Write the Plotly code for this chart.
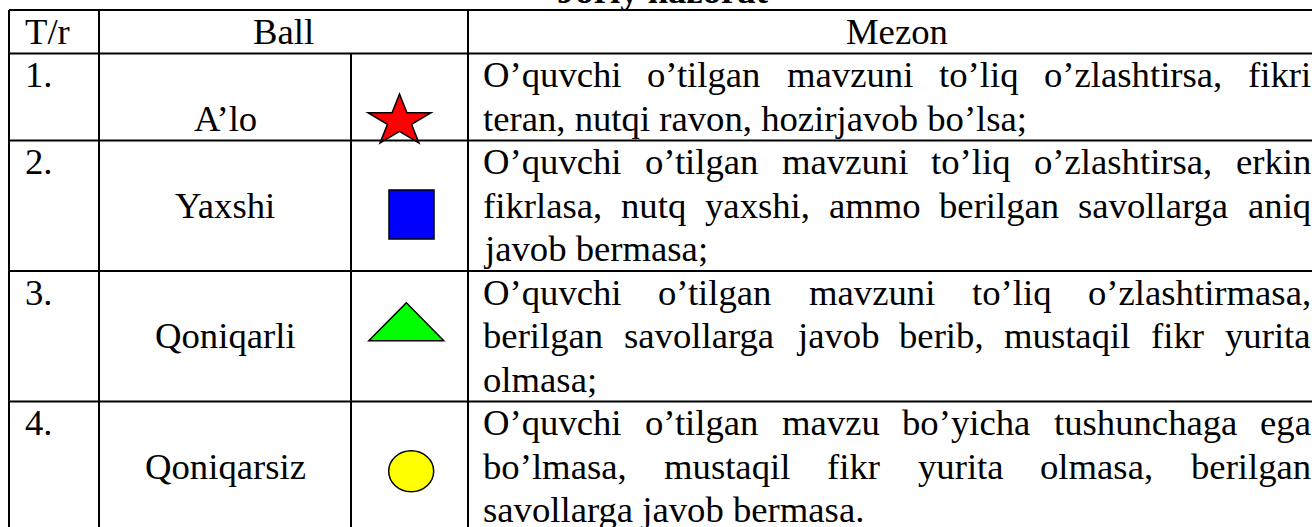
import math
import plotly.graph_objects as go

# ---------------- data ----------------
title_text = "Joriy nazorat"
header_labels = ["T/r", "Ball", "Mezon"]
row_numbers = ["1.", "2.", "3.", "4."]
grades = ["A’lo", "Yaxshi", "Qoniqarli", "Qoniqarsiz"]
grade_symbols = ["star", "square", "triangle", "circle"]
symbol_colors = ["#ff0000", "#0000ff", "#00ff00", "#ffff00"]
criteria_lines = [
    ["O’quvchi o’tilgan mavzuni to’liq o’zlashtirsa, fikri",
     "teran, nutqi ravon, hozirjavob bo’lsa;"],
    ["O’quvchi o’tilgan mavzuni to’liq o’zlashtirsa, erkin",
     "fikrlasa, nutq yaxshi, ammo berilgan savollarga aniq",
     "javob bermasa;"],
    ["O’quvchi o’tilgan mavzuni to’liq o’zlashtirmasa,",
     "berilgan savollarga javob berib, mustaqil fikr yurita",
     "olmasa;"],
    ["O’quvchi o’tilgan mavzu bo’yicha tushunchaga ega",
     "bo’lmasa, mustaqil fikr yurita olmasa, berilgan",
     "savollarga javob bermasa."],
]

# ---------------- geometry / style ----------------
W, H = 1312, 527
FONT = "Liberation Serif"
FS = 36.7
LH = 43.5          # line height
BASE = 33.5        # baseline offset inside a line
TOP = 10
XL, XN, XS, XC, XR = 9, 99, 351, 468, 1325
PAD = 16
CL, CR = 483, 1311  # criteria text box
LW = 2
GRADE_LINE = 1
TITLE_BASELINE = 3

SYMBOL_GEOM = {
    "star": dict(dx=-10, dy=65.0, w=63, h=49),
    "square": dict(dx=2, dy=74.1, w=45, h=49),
    "triangle": dict(dx=-3.2, dy=50.7, w=75, h=38),
    "circle": dict(dx=1.7, dy=69.8, w=45, h=41),
}

# Times / Liberation Serif advance widths (1/1000 em)
CW = {' ': 250, ',': 250, '.': 250, ';': 278, '’': 333, '/': 278,
      'A': 722, 'M': 889, 'O': 722, 'Q': 722, 'T': 611, 'Y': 722, 'B': 667,
      'a': 444, 'b': 500, 'c': 444, 'd': 500, 'e': 444, 'f': 333, 'g': 500,
      'h': 500, 'i': 278, 'j': 278, 'k': 500, 'l': 278, 'm': 778, 'n': 500,
      'o': 500, 'p': 500, 'q': 500, 'r': 333, 's': 389, 't': 278, 'u': 500,
      'v': 500, 'w': 722, 'x': 500, 'y': 500, 'z': 444}


def tw(s):
    return sum(CW.get(c, 500) for c in s) * FS / 1000.0


fig = go.Figure()
fig.add_trace(go.Scatter(x=[0, W], y=[0, H], mode="markers",
                         marker=dict(opacity=0), hoverinfo="skip", showlegend=False))


def text(x, baseline, s, anchor="left"):
    fig.add_annotation(x=x, y=baseline - 0.3375 * FS, xref="x", yref="y", text=s,
                       showarrow=False, xanchor=anchor, yanchor="middle",
                       borderpad=0, borderwidth=0,
                       font=dict(family=FONT, size=FS, color="black"))


def hline(y, x0=XL, x1=XR):
    fig.add_shape(type="line", xref="x", yref="y", x0=x0, x1=x1, y0=y, y1=y,
                  line=dict(color="black", width=LW), layer="above")


def vline(x, y0, y1=H + 20):
    fig.add_shape(type="line", xref="x", yref="y", x0=x, x1=x, y0=y0, y1=y1,
                  line=dict(color="black", width=LW), layer="above")


# title (cut at the top edge) -- paper coords so it is not hidden off-axis
title_mid_px = TITLE_BASELINE - 0.3375 * FS
fig.add_annotation(x=((XL + XR) / 2 - 4) / W, y=1 - title_mid_px / H,
                   xref="paper", yref="paper",
                   text="<b>" + title_text + "</b>", showarrow=False,
                   xanchor="center", yanchor="middle", borderpad=0, borderwidth=0,
                   font=dict(family=FONT, size=FS, color="black"))

# header
hdr_bottom = TOP + LH
hline(TOP)
hline(hdr_bottom)
text(XL + PAD, TOP + BASE, header_labels[0])
text((XN + XC) / 2, TOP + BASE, header_labels[1], "center")
text((XC + XR) / 2, TOP + BASE, header_labels[2], "center")

vline(XL, TOP)
vline(XN, TOP)
vline(XC, TOP)
vline(XR, TOP)
vline(XS, hdr_bottom)

row_top = hdr_bottom
for i in range(len(row_numbers)):
    lines = criteria_lines[i]
    n = len(lines)
    text(XL + PAD, row_top + BASE, row_numbers[i])
    text((XN + XS) / 2, row_top + GRADE_LINE * LH + BASE, grades[i], "center")
    for k, ln in enumerate(lines):
        b = row_top + k * LH + BASE
        if k == n - 1:
            text(CL, b, ln)
            continue
        words = ln.split(" ")
        widths = [tw(w) for w in words]
        gap = (CR - CL - sum(widths)) / (len(words) - 1)
        x = CL
        for j, w in enumerate(words):
            if j == len(words) - 1:
                text(CR, b, w, "right")
            else:
                text(x, b, w)
            x += widths[j] + gap
    sym = grade_symbols[i]
    g = SYMBOL_GEOM[sym]
    cx = (XS + XC) / 2 + g["dx"]
    cy = row_top + g["dy"]
    style = dict(xref="x", yref="y", fillcolor=symbol_colors[i],
                 line=dict(color="black", width=1.5), layer="above")
    if sym == "square":
        fig.add_shape(type="rect", x0=cx - g["w"] / 2, x1=cx + g["w"] / 2,
                      y0=cy - g["h"] / 2, y1=cy + g["h"] / 2, **style)
    elif sym == "circle":
        fig.add_shape(type="circle", x0=cx - g["w"] / 2, x1=cx + g["w"] / 2,
                      y0=cy - g["h"] / 2, y1=cy + g["h"] / 2, **style)
    elif sym == "triangle":
        p = (f"M{cx},{cy - g['h'] / 2} L{cx + g['w'] / 2},{cy + g['h'] / 2} "
             f"L{cx - g['w'] / 2},{cy + g['h'] / 2} Z")
        fig.add_shape(type="path", path=p, **style)
    elif sym == "star":
        rx = g["w"] / (2 * math.sin(math.radians(72)))
        ry = g["h"] / (1 + math.cos(math.radians(36)))
        ccy = cy - g["h"] / 2 + ry
        pts = []
        for m in range(10):
            a = math.radians(-90 + 36 * m)
            r = 1.0 if m % 2 == 0 else 0.382
            pts.append((cx + r * rx * math.cos(a), ccy + r * ry * math.sin(a)))
        p = "M" + " L".join(f"{px:.2f},{py:.2f}" for px, py in pts) + " Z"
        fig.add_shape(type="path", path=p, **style)
    row_top += n * LH
    hline(row_top)

fig.update_layout(
    width=W, height=H, margin=dict(l=0, r=0, t=0, b=0),
    paper_bgcolor="white", plot_bgcolor="white", showlegend=False,
    xaxis=dict(range=[0, W], visible=False, fixedrange=True),
    yaxis=dict(range=[H, 0], visible=False, fixedrange=True),
)
fig.write_html("out.html",
               config={"displayModeBar": False, "staticPlot": True},
               post_script="document.body.style.margin='0px';"
                           "document.body.style.overflow='hidden';")
